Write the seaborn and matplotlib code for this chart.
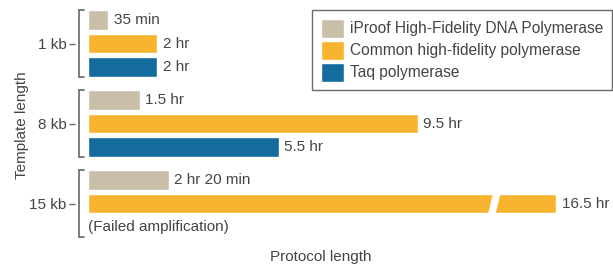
import numpy as np
import pandas as pd
import seaborn as sns
import matplotlib.pyplot as plt
from matplotlib.patches import Polygon
import matplotlib.transforms as mtransforms

# Data (hours)
templates = ["1 kb", "8 kb", "15 kb"]
polymerases = ["iProof High-Fidelity DNA Polymerase", "Common high-fidelity polymerase", "Taq polymerase"]
iproof_hours = [35 / 60, 1.5, 140 / 60]
common_hours = [2.0, 9.5, 16.5]
taq_hours = [2.0, 5.5, np.nan]  # failed at 15 kb
iproof_labels = ["35 min", "1.5 hr", "2 hr 20 min"]
common_labels = ["2 hr", "9.5 hr", "16.5 hr"]
taq_labels = ["2 hr", "5.5 hr", None]
failed_text = "(Failed amplification)"

# axis break: values past break_at are shortened by break_skip
break_at = 11.63
break_skip = 3.0

colors = ["#C9BEA8", "#F8B42E", "#136B9E"]
text_color = "#444444"

rows = []
for name, vals in zip(polymerases, [iproof_hours, common_hours, taq_hours]):
    for t, v in zip(templates, vals):
        rows.append({"template": t, "polymerase": name, "hours": v})
df = pd.DataFrame(rows).dropna()
df["shown"] = np.where(df["hours"] > break_at, df["hours"] - break_skip, df["hours"])

sns.set_style("white")
plt.rcParams["font.family"] = ["Liberation Sans", "DejaVu Sans"]
plt.rcParams["text.color"] = text_color

fig = plt.figure(figsize=(6.13, 2.67), dpi=100)
W, H = 613, 267
ax = fig.add_axes([88 / W, (H - 240) / H, (W - 88) / W, 240 / H])

sns.barplot(data=df, y="template", x="shown", hue="polymerase", hue_order=polymerases,
            order=templates, palette=colors, saturation=1, orient="y", width=0.88, gap=0.15,
            errorbar=None, ax=ax)

ax.set_xlim(0, 525 / 34.7)
ax.set_ylim(2.456, -0.544)
sns.despine(ax=ax, left=True, bottom=True)
ax.set_xticks([])

fs = 11

# value labels next to bars
for cont, labs in zip(ax.containers, [iproof_labels, common_labels, taq_labels]):
    labs = [l for l in labs if l is not None]
    ax.bar_label(cont, labels=labs, padding=3.8, fontsize=fs, color=text_color)

# failed amplification note in the missing Taq slot
taq_offset = ax.containers[2][0].get_y() + ax.containers[2][0].get_height() / 2
ax.text(0.0, 2 + taq_offset, failed_text, va="center", ha="left", fontsize=fs, color=text_color)

# break mark on the long bar
long_bar = ax.containers[1][2]
y0, y1 = long_bar.get_y() - 0.02, long_bar.get_y() + long_bar.get_height() + 0.02
gw, sl = 0.22, 0.16
ax.add_patch(Polygon([[break_at - gw / 2, y1], [break_at + gw / 2, y1],
                      [break_at + gw / 2 + sl, y0], [break_at - gw / 2 + sl, y0]],
                     closed=True, facecolor="white", edgecolor="none", zorder=5))

# y ticks with brackets
ax.spines["left"].set_position(("outward", 9))
ax.set_yticks(range(len(templates)))
ax.set_yticklabels(templates, fontsize=fs, color=text_color)
ax.tick_params(axis="y", length=4.3, width=1, color="#666666", pad=2.0, left=True)
ax.tick_params(axis="x", bottom=False)
trans = mtransforms.blended_transform_factory(ax.transAxes, ax.transData)
xl, xh = -9 / 525, -4 / 525
for k in range(len(templates)):
    ax.plot([xh, xl, xl, xh], [k - 0.42, k - 0.42, k + 0.42, k + 0.42], transform=trans,
            color="#666666", lw=1.2, clip_on=False, solid_joinstyle="miter")

ax.set_ylabel("Template length", fontsize=fs, color=text_color)
ax.yaxis.set_label_coords(-0.112, 1 - 125 / 240)
ax.set_xlabel("Protocol length", fontsize=fs, color=text_color)
ax.xaxis.set_label_coords((321 - 88) / 525, -10 / 240)

handles, labels = ax.get_legend_handles_labels()
leg = ax.legend(handles, labels, loc="upper right", bbox_to_anchor=(612 / W, 1 - 10 / H),
                bbox_transform=fig.transFigure, borderaxespad=0, fontsize=11.2,
                handlelength=1.5, handleheight=1.5, handletextpad=0.4, labelspacing=0.2,
                borderpad=0.55, fancybox=False, frameon=True)
leg.get_frame().set_edgecolor("#444444")
leg.get_frame().set_linewidth(1)
for t in leg.get_texts():
    t.set_color(text_color)

fig.savefig("out.png", dpi=100)
